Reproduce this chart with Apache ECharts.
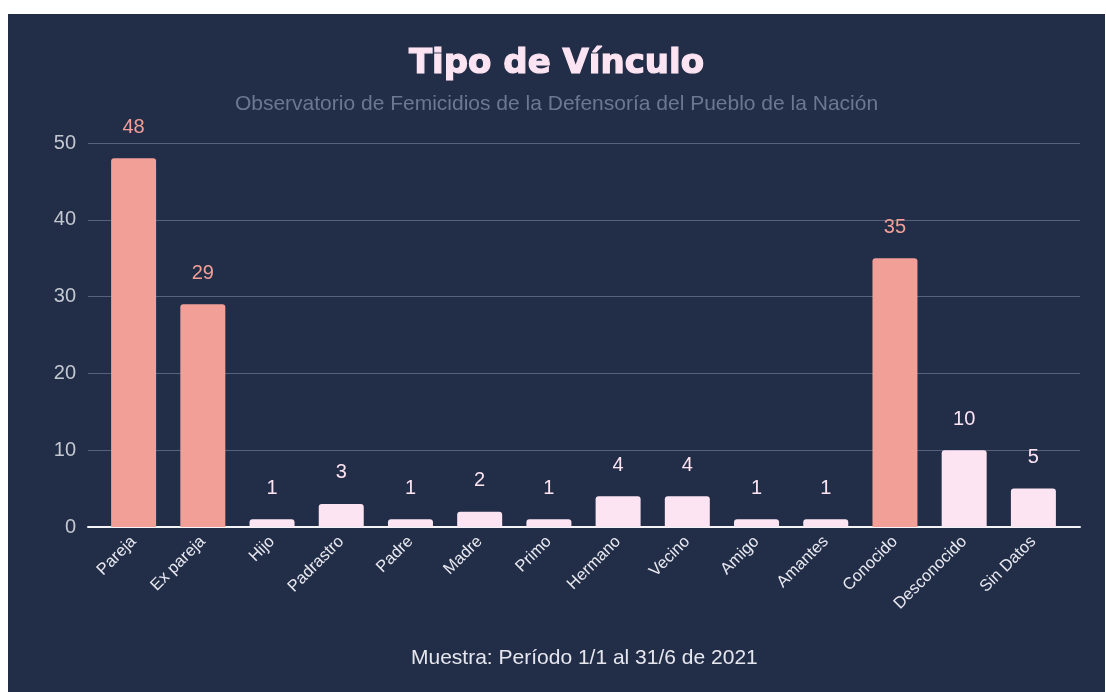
<!DOCTYPE html>
<html>
<head>
<meta charset="utf-8">
<script src="https://cdn.jsdelivr.net/npm/echarts@6/dist/echarts.min.js"></script>
<style>
html,body{margin:0;padding:0;background:#ffffff;}
#chart{position:absolute;left:8px;top:14px;width:1097px;height:678px;}
</style>
</head>
<body>
<div id="chart"></div>
<script>
const categories = ["Pareja","Ex pareja","Hijo","Padrastro","Padre","Madre","Primo","Hermano","Vecino","Amigo","Amantes","Conocido","Desconocido","Sin Datos"];
const values = [48,29,1,3,1,2,1,4,4,1,1,35,10,5];
const highlighted = ["Pareja","Ex pareja","Conocido"];
const yTicks = [0,10,20,30,40,50];

const SALMON = '#f29f98';
const PINK = '#fde4f2';
const yMin = yTicks[0], yMax = yTicks[yTicks.length-1];

const chart = echarts.init(document.getElementById('chart'));
chart.setOption({
  backgroundColor: '#222e48',
  animation: false,
  title: [{
    text: 'Tipo de Vínculo',
    subtext: 'Observatorio de Femicidios de la Defensoría del Pueblo de la Nación',
    left: 'center',
    top: 28,
    padding: [5, 5, 5, 13],
    itemGap: 12,
    textStyle: {color: PINK, fontSize: 34, fontWeight: 'bold', fontFamily: 'DejaVu Sans',
                textBorderColor: PINK, textBorderWidth: 1.2},
    subtextStyle: {color: '#6b7891', fontSize: 21, fontFamily: 'Liberation Sans'}
  },{
    text: 'Muestra: Período 1/1 al 31/6 de 2021',
    left: 398,
    top: 629,
    textStyle: {color: '#e6e6ee', fontSize: 21, fontWeight: 'normal', fontFamily: 'Liberation Sans'}
  }],
  grid: [
    {left: 80, right: 25, top: 129, bottom: 165},
    {left: 91, right: 37, top: 129, bottom: 165}
  ],
  xAxis: [{
    gridIndex: 0,
    type: 'value',
    min: 0, max: 1,
    axisTick: {show: false},
    axisLabel: {show: false},
    splitLine: {show: false},
    axisLine: {show: true, lineStyle: {color: '#f4f4f8', width: 2}}
  },{
    gridIndex: 1,
    type: 'category',
    data: categories,
    axisTick: {show: false},
    axisLine: {show: false},
    axisLabel: {rotate: 45, color: '#e8e8f0', fontSize: 16.5, fontFamily: 'Liberation Sans', interval: 0, margin: 12}
  }],
  yAxis: [{
    gridIndex: 0,
    type: 'value',
    min: yMin, max: yMax,
    interval: 10,
    axisLine: {show: false},
    axisTick: {show: false},
    splitLine: {lineStyle: {color: '#56627a', width: 1}},
    axisLabel: {color: '#c3c7d0', fontSize: 20, fontFamily: 'Liberation Sans', margin: 12}
  },{
    gridIndex: 1,
    type: 'value',
    min: yMin, max: yMax,
    interval: 10,
    show: false
  }],
  series: [{
    type: 'bar',
    xAxisIndex: 1,
    yAxisIndex: 1,
    barWidth: '65%',
    data: values.map((v,i) => {
      const c = highlighted.includes(categories[i]) ? SALMON : PINK;
      return {value: v, itemStyle: {color: c, borderRadius: [3,3,0,0]}, label: {color: c}};
    }),
    label: {show: true, position: 'top', distance: 21, fontSize: 20, fontFamily: 'Liberation Sans'}
  }]
});
</script>
</body>
</html>
